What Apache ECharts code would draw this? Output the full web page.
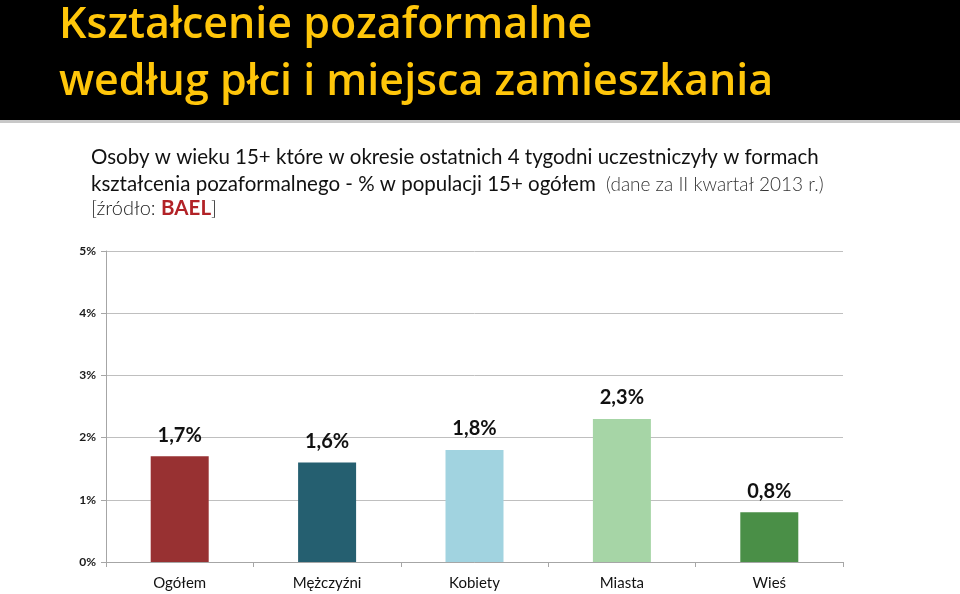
<!DOCTYPE html>
<html><head><meta charset="utf-8">
<script src="https://cdn.jsdelivr.net/npm/echarts@6/dist/echarts.min.js"></script>
<style>html,body{margin:0;padding:0;background:#fff}#c{width:960px;height:594px}</style>
</head><body><div id="c"></div>
<script>
const categories = ['Ogółem', 'Mężczyźni', 'Kobiety', 'Miasta', 'Wieś'];
const values = [1.7, 1.6, 1.8, 2.3, 0.8];
const valueLabels = ['1,7%', '1,6%', '1,8%', '2,3%', '0,8%'];
const barColors = ['#983132', '#255F70', '#A1D3E0', '#A6D5A6', '#4A8F47'];
const yTicks = ['0%', '1%', '2%', '3%', '4%', '5%'];

const chart = echarts.init(document.getElementById('c'));
chart.setOption({
  backgroundColor: '#ffffff',
  animation: false,
  graphic: [
    {type: 'rect', shape: {x: 0, y: 0, width: 960, height: 120}, style: {fill: '#000000'}, z: 0},
    {type: 'rect', shape: {x: 0, y: 120, width: 960, height: 3}, style: {fill: '#c8c8c8'}, z: 0},
    {type: 'text', left: 59, top: 4, z: 2, style: {text: 'Kształcenie pozaformalne', fill: '#FFC60A', font: '600 43px "Open Sans"'}},
    {type: 'text', left: 59, top: 61, z: 2, style: {text: 'według płci i miejsca zamieszkania', fill: '#FFC60A', font: '600 43px "Open Sans"'}},
    {type: 'text', left: 91, top: 147, z: 2, style: {text: 'Osoby w wieku 15+ które w okresie ostatnich 4 tygodni uczestniczyły w formach', fill: '#111111', font: '20.5px Lato'}},
    {type: 'text', left: 91, top: 174, z: 2, style: {rich: {a: {fill: '#111111', font: '20.5px Lato'}, b: {fill: '#333333', font: '300 19px Lato'}}, text: '{a|kształcenia pozaformalnego - % w populacji 15+ ogółem}{b|  (dane za II kwartał 2013 r.)}'}},
    {type: 'text', left: 91, top: 198, z: 2, style: {rich: {a: {fill: '#222222', font: '300 20px Lato'}, r: {fill: '#B22227', font: 'bold 20.5px Lato'}}, text: '{a|[źródło: }{r|BAEL}{a|]}'}}
  ],
  grid: {left: 106, right: 117, top: 251, bottom: 32, containLabel: false},
  xAxis: {
    type: 'category', data: categories,
    axisLine: {lineStyle: {color: '#a6a6a6'}},
    axisTick: {show: true, lineStyle: {color: '#a6a6a6'}, length: 5},
    axisLabel: {color: '#111111', fontSize: 15, fontFamily: 'Lato', margin: 14}
  },
  yAxis: {
    type: 'value', min: 0, max: 5, interval: 1,
    axisLine: {show: true, lineStyle: {color: '#a6a6a6'}},
    axisTick: {show: true, lineStyle: {color: '#a6a6a6'}, length: 5},
    splitLine: {lineStyle: {color: '#bfbfbf'}},
    axisLabel: {color: '#1a1a1a', fontSize: 12, fontWeight: 'bold', fontFamily: 'Lato', margin: 10,
      formatter: (v) => yTicks[v]}
  },
  series: [{
    type: 'bar', barWidth: 58,
    data: values.map((v, i) => ({value: v, itemStyle: {color: barColors[i]}})),
    label: {show: true, position: 'top', distance: 11, color: '#111111', fontSize: 20, fontWeight: 'bold', fontFamily: 'Lato',
      formatter: (p) => valueLabels[p.dataIndex]}
  }]
});
</script></body></html>
